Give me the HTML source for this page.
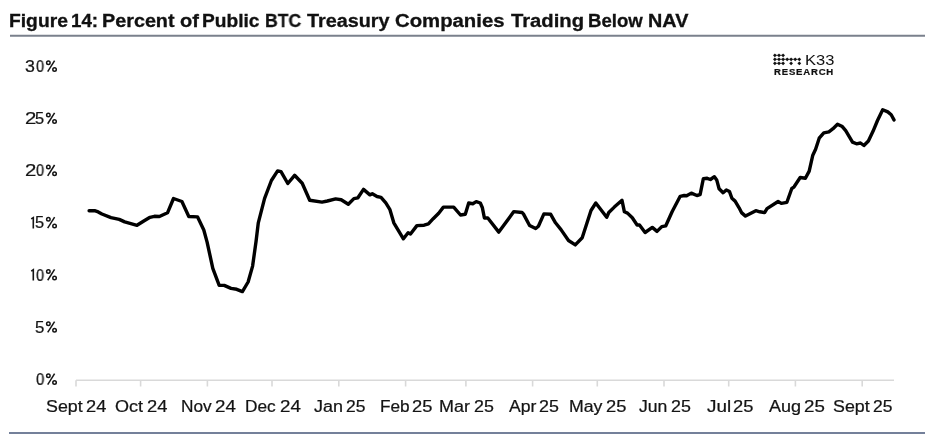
<!DOCTYPE html>
<html><head><meta charset="utf-8"><style>
html,body{margin:0;padding:0;background:#fff;}
body{width:935px;height:439px;position:relative;overflow:hidden;font-family:"Liberation Sans",sans-serif;}
.t{position:absolute;white-space:nowrap;line-height:1;transform-origin:0 0;will-change:transform;}
.rule{position:absolute;}
svg{position:absolute;left:0;top:0;}
</style></head><body>
<svg width="935" height="439" viewBox="0 0 935 439">
<line x1="10" y1="35.8" x2="925" y2="35.8" stroke="#7a808c" stroke-width="2"/>
<line x1="9" y1="433" x2="925" y2="433" stroke="#74809a" stroke-width="2"/>
<g stroke="#d9d9d9" stroke-width="1.6" fill="none">
<line x1="76" y1="380.3" x2="894" y2="380.3"/>
<line x1="76" y1="380.3" x2="76" y2="386.5"/><line x1="140.6" y1="380.3" x2="140.6" y2="386.5"/><line x1="207.4" y1="380.3" x2="207.4" y2="386.5"/><line x1="272.0" y1="380.3" x2="272.0" y2="386.5"/><line x1="338.8" y1="380.3" x2="338.8" y2="386.5"/><line x1="405.6" y1="380.3" x2="405.6" y2="386.5"/><line x1="465.9" y1="380.3" x2="465.9" y2="386.5"/><line x1="532.6" y1="380.3" x2="532.6" y2="386.5"/><line x1="597.3" y1="380.3" x2="597.3" y2="386.5"/><line x1="664.0" y1="380.3" x2="664.0" y2="386.5"/><line x1="728.7" y1="380.3" x2="728.7" y2="386.5"/><line x1="795.4" y1="380.3" x2="795.4" y2="386.5"/><line x1="862.2" y1="380.3" x2="862.2" y2="386.5"/>
</g>
<g fill="#111"><path d="M773.0 55.3Q773.855 54.254999999999995 774.9 53.4Q775.9449999999999 54.254999999999995 776.8 55.3Q775.9449999999999 56.345 774.9 57.199999999999996Q773.855 56.345 773.0 55.3Z"/><path d="M777.1 55.3Q777.955 54.254999999999995 779.0 53.4Q780.045 54.254999999999995 780.9 55.3Q780.045 56.345 779.0 57.199999999999996Q777.955 56.345 777.1 55.3Z"/><path d="M781.2 55.3Q782.0550000000001 54.254999999999995 783.1 53.4Q784.145 54.254999999999995 785.0 55.3Q784.145 56.345 783.1 57.199999999999996Q782.0550000000001 56.345 781.2 55.3Z"/><path d="M773.0 59.3Q773.855 58.254999999999995 774.9 57.4Q775.9449999999999 58.254999999999995 776.8 59.3Q775.9449999999999 60.345 774.9 61.199999999999996Q773.855 60.345 773.0 59.3Z"/><path d="M777.1 59.3Q777.955 58.254999999999995 779.0 57.4Q780.045 58.254999999999995 780.9 59.3Q780.045 60.345 779.0 61.199999999999996Q777.955 60.345 777.1 59.3Z"/><path d="M781.2 59.3Q782.0550000000001 58.254999999999995 783.1 57.4Q784.145 58.254999999999995 785.0 59.3Q784.145 60.345 783.1 61.199999999999996Q782.0550000000001 60.345 781.2 59.3Z"/><path d="M785.3000000000001 59.3Q786.1550000000001 58.254999999999995 787.2 57.4Q788.245 58.254999999999995 789.1 59.3Q788.245 60.345 787.2 61.199999999999996Q786.1550000000001 60.345 785.3000000000001 59.3Z"/><path d="M789.2 59.3Q790.0550000000001 58.254999999999995 791.1 57.4Q792.145 58.254999999999995 793.0 59.3Q792.145 60.345 791.1 61.199999999999996Q790.0550000000001 60.345 789.2 59.3Z"/><path d="M793.3000000000001 59.3Q794.1550000000001 58.254999999999995 795.2 57.4Q796.245 58.254999999999995 797.1 59.3Q796.245 60.345 795.2 61.199999999999996Q794.1550000000001 60.345 793.3000000000001 59.3Z"/><path d="M797.4 59.3Q798.255 58.254999999999995 799.3 57.4Q800.3449999999999 58.254999999999995 801.1999999999999 59.3Q800.3449999999999 60.345 799.3 61.199999999999996Q798.255 60.345 797.4 59.3Z"/><path d="M773.0 63.3Q773.855 62.254999999999995 774.9 61.4Q775.9449999999999 62.254999999999995 776.8 63.3Q775.9449999999999 64.345 774.9 65.2Q773.855 64.345 773.0 63.3Z"/><path d="M777.1 63.3Q777.955 62.254999999999995 779.0 61.4Q780.045 62.254999999999995 780.9 63.3Q780.045 64.345 779.0 65.2Q777.955 64.345 777.1 63.3Z"/><path d="M781.2 63.3Q782.0550000000001 62.254999999999995 783.1 61.4Q784.145 62.254999999999995 785.0 63.3Q784.145 64.345 783.1 65.2Q782.0550000000001 64.345 781.2 63.3Z"/><path d="M789.2 63.3Q790.0550000000001 62.254999999999995 791.1 61.4Q792.145 62.254999999999995 793.0 63.3Q792.145 64.345 791.1 65.2Q790.0550000000001 64.345 789.2 63.3Z"/><path d="M797.4 63.3Q798.255 62.254999999999995 799.3 61.4Q800.3449999999999 62.254999999999995 801.1999999999999 63.3Q800.3449999999999 64.345 799.3 65.2Q798.255 64.345 797.4 63.3Z"/></g><path d="M774.9 59.3H799.3M774.9 55.3H783.1M774.9 63.3H783.1" stroke="#111" stroke-width="0.6" fill="none"/>
<g fill="none" stroke="#141414" stroke-width="1.5"><circle cx="48.35" cy="375.80" r="1.75"/><circle cx="54.55" cy="382.45" r="1.75"/><path d="M54.6 373.70L47.7 384.60"/><circle cx="48.35" cy="323.63" r="1.75"/><circle cx="54.55" cy="330.28" r="1.75"/><path d="M54.6 321.53L47.7 332.43"/><circle cx="48.35" cy="271.46" r="1.75"/><circle cx="54.55" cy="278.11" r="1.75"/><path d="M54.6 269.36L47.7 280.26"/><circle cx="48.35" cy="219.29" r="1.75"/><circle cx="54.55" cy="225.94" r="1.75"/><path d="M54.6 217.19L47.7 228.09"/><circle cx="48.35" cy="167.12" r="1.75"/><circle cx="54.55" cy="173.77" r="1.75"/><path d="M54.6 165.02L47.7 175.92"/><circle cx="48.35" cy="114.95" r="1.75"/><circle cx="54.55" cy="121.60" r="1.75"/><path d="M54.6 112.85L47.7 123.75"/><circle cx="48.35" cy="62.78" r="1.75"/><circle cx="54.55" cy="69.43" r="1.75"/><path d="M54.6 60.68L47.7 71.58"/></g>
<g fill="none" stroke="#141414" stroke-width="1.6" stroke-linejoin="miter">
<path d="M31.2 271.06 L33.3 269.76 V280.56"/>
<path d="M31.2 218.89 L33.3 217.59 V228.39"/>
</g>
<path d="M89.1 210.7 L94.6 210.7 L98.2 211.9 L101.9 214.0 L111.0 217.6 L119.2 219.4 L124.7 221.9 L137.0 225.3 L143.8 221.0 L150.0 217.3 L154.4 216.3 L159.4 216.5 L167.5 212.8 L173.5 198.5 L181.9 201.5 L188.8 216.5 L197.6 216.9 L203.8 230.0 L207.1 242.1 L212.8 268.3 L219.2 285.4 L224.2 285.4 L231.0 288.4 L236.7 289.3 L242.4 291.6 L248.1 282.0 L252.6 266.1 L256.1 241.0 L258.3 222.8 L264.6 198.3 L271.4 180.5 L277.6 170.9 L281.0 171.6 L287.8 183.5 L294.6 175.3 L302.2 183.2 L309.7 200.3 L322.0 202.1 L327.4 201.0 L335.6 198.9 L341.2 199.7 L348.3 204.2 L353.9 198.6 L357.9 197.8 L363.5 189.4 L369.9 194.9 L372.3 193.8 L377.0 196.5 L381.0 197.3 L385.8 202.9 L389.8 209.3 L393.8 222.8 L403.4 238.8 L408.1 232.7 L410.5 234.0 L416.9 225.6 L424.1 225.2 L428.4 223.9 L433.2 218.7 L438.7 213.2 L443.4 207.1 L453.7 207.1 L460.5 215.0 L465.3 214.3 L468.7 203.0 L472.8 203.7 L476.2 201.6 L480.3 203.0 L482.4 207.8 L484.4 218.0 L487.8 218.0 L498.8 232.1 L513.8 211.6 L522.0 212.5 L523.4 213.9 L529.6 225.5 L535.7 228.5 L538.4 226.2 L543.9 213.9 L550.7 214.3 L555.5 222.8 L561.0 229.6 L568.5 240.5 L575.3 244.9 L582.2 237.8 L591.0 210.5 L595.8 203.0 L606.7 217.3 L608.8 212.5 L614.3 207.1 L622.0 200.3 L624.4 211.8 L627.5 213.1 L632.3 217.8 L637.1 225.0 L639.5 225.0 L645.1 232.5 L652.3 227.4 L657.0 231.4 L661.8 226.6 L665.8 225.8 L672.2 211.5 L680.2 196.3 L684.2 195.5 L686.6 195.8 L691.3 193.1 L696.9 195.5 L700.1 194.7 L703.3 178.8 L707.2 178.3 L710.4 179.5 L714.4 176.7 L716.7 179.9 L719.1 188.7 L723.1 192.7 L726.3 190.0 L729.5 191.6 L731.9 198.3 L735.1 201.1 L739.1 207.8 L741.5 212.6 L745.5 216.1 L755.8 210.7 L759.8 211.8 L764.6 212.6 L767.0 208.6 L778.1 201.5 L781.3 203.4 L786.9 202.3 L791.7 188.7 L794.1 186.8 L800.2 177.5 L805.4 178.3 L809.2 171.1 L812.8 155.2 L815.6 149.2 L819.2 138.2 L823.8 132.8 L828.9 131.8 L833.0 128.7 L837.5 124.2 L842.3 126.6 L845.7 130.7 L849.1 136.4 L852.5 142.1 L856.5 143.8 L860.5 143.0 L863.9 145.5 L868.4 141.0 L873.0 131.3 L877.5 120.5 L882.7 109.7 L887.8 111.9 L891.2 114.8 L894.0 119.9" fill="none" stroke="#000" stroke-width="3.4" stroke-linejoin="round" stroke-linecap="round"/>
</svg>
<span class="t" style="left:9.23px;top:11.80px;transform:scaleX(1.0704);font-size:18px;font-weight:bold;color:#111;-webkit-text-stroke:0.3px #111">Figure</span><span class="t" style="left:71.46px;top:11.80px;transform:scaleX(1.0417);font-size:18px;font-weight:bold;color:#111;-webkit-text-stroke:0.3px #111">14:</span><span class="t" style="left:102.00px;top:11.80px;transform:scaleX(1.0985);font-size:18px;font-weight:bold;color:#111;-webkit-text-stroke:0.3px #111">Percent</span><span class="t" style="left:180.30px;top:11.80px;transform:scaleX(1.1118);font-size:18px;font-weight:bold;color:#111;-webkit-text-stroke:0.3px #111">of</span><span class="t" style="left:201.74px;top:11.80px;transform:scaleX(1.0642);font-size:18px;font-weight:bold;color:#111;-webkit-text-stroke:0.3px #111">Public</span><span class="t" style="left:265.02px;top:11.80px;transform:scaleX(0.9778);font-size:18px;font-weight:bold;color:#111;-webkit-text-stroke:0.3px #111">BTC</span><span class="t" style="left:307.20px;top:11.80px;transform:scaleX(1.1000);font-size:18px;font-weight:bold;color:#111;-webkit-text-stroke:0.3px #111">Treasury</span><span class="t" style="left:395.00px;top:11.80px;transform:scaleX(1.1289);font-size:18px;font-weight:bold;color:#111;-webkit-text-stroke:0.3px #111">Companies</span><span class="t" style="left:510.80px;top:11.80px;transform:scaleX(1.1234);font-size:18px;font-weight:bold;color:#111;-webkit-text-stroke:0.3px #111">Trading</span><span class="t" style="left:588.47px;top:11.80px;transform:scaleX(1.0327);font-size:18px;font-weight:bold;color:#111;-webkit-text-stroke:0.3px #111">Below</span><span class="t" style="left:648.30px;top:11.80px;transform:scaleX(1.1000);font-size:18px;font-weight:bold;color:#111;-webkit-text-stroke:0.3px #111">NAV</span><span class="t" style="left:46.46px;top:398.90px;transform:scaleX(1.1419);font-size:15.6px;color:#141414;-webkit-text-stroke:0.22px #141414">Sept</span><span class="t" style="left:86.23px;top:398.90px;transform:scaleX(1.1688);font-size:15.6px;color:#141414;-webkit-text-stroke:0.22px #141414">24</span><span class="t" style="left:115.05px;top:398.90px;transform:scaleX(1.1542);font-size:15.6px;color:#141414;-webkit-text-stroke:0.22px #141414">Oct</span><span class="t" style="left:147.02px;top:398.90px;transform:scaleX(1.1750);font-size:15.6px;color:#141414;-webkit-text-stroke:0.22px #141414">24</span><span class="t" style="left:180.59px;top:398.90px;transform:scaleX(1.1074);font-size:15.6px;color:#141414;-webkit-text-stroke:0.22px #141414">Nov</span><span class="t" style="left:214.80px;top:398.90px;transform:scaleX(1.2000);font-size:15.6px;color:#141414;-webkit-text-stroke:0.22px #141414">24</span><span class="t" style="left:245.19px;top:398.90px;transform:scaleX(1.1074);font-size:15.6px;color:#141414;-webkit-text-stroke:0.22px #141414">Dec</span><span class="t" style="left:279.80px;top:398.90px;transform:scaleX(1.2000);font-size:15.6px;color:#141414;-webkit-text-stroke:0.22px #141414">24</span><span class="t" style="left:313.70px;top:398.90px;transform:scaleX(1.1520);font-size:15.6px;color:#141414;-webkit-text-stroke:0.22px #141414">Jan</span><span class="t" style="left:346.08px;top:398.90px;transform:scaleX(1.1187);font-size:15.6px;color:#141414;-webkit-text-stroke:0.22px #141414">25</span><span class="t" style="left:379.50px;top:398.90px;transform:scaleX(1.1038);font-size:15.6px;color:#141414;-webkit-text-stroke:0.22px #141414">Feb</span><span class="t" style="left:412.03px;top:398.90px;transform:scaleX(1.1750);font-size:15.6px;color:#141414;-webkit-text-stroke:0.22px #141414">25</span><span class="t" style="left:439.45px;top:398.90px;transform:scaleX(1.1500);font-size:15.6px;color:#141414;-webkit-text-stroke:0.22px #141414">Mar</span><span class="t" style="left:473.66px;top:398.90px;transform:scaleX(1.1437);font-size:15.6px;color:#141414;-webkit-text-stroke:0.22px #141414">25</span><span class="t" style="left:508.70px;top:398.90px;transform:scaleX(1.1292);font-size:15.6px;color:#141414;-webkit-text-stroke:0.22px #141414">Apr</span><span class="t" style="left:538.96px;top:398.90px;transform:scaleX(1.1437);font-size:15.6px;color:#141414;-webkit-text-stroke:0.22px #141414">25</span><span class="t" style="left:569.17px;top:398.90px;transform:scaleX(1.1345);font-size:15.6px;color:#141414;-webkit-text-stroke:0.22px #141414">May</span><span class="t" style="left:606.33px;top:398.90px;transform:scaleX(1.1750);font-size:15.6px;color:#141414;-webkit-text-stroke:0.22px #141414">25</span><span class="t" style="left:639.40px;top:398.90px;transform:scaleX(1.1280);font-size:15.6px;color:#141414;-webkit-text-stroke:0.22px #141414">Jun</span><span class="t" style="left:671.26px;top:398.90px;transform:scaleX(1.1437);font-size:15.6px;color:#141414;-webkit-text-stroke:0.22px #141414">25</span><span class="t" style="left:706.90px;top:398.90px;transform:scaleX(1.2105);font-size:15.6px;color:#141414;-webkit-text-stroke:0.22px #141414">Jul</span><span class="t" style="left:732.63px;top:398.90px;transform:scaleX(1.1750);font-size:15.6px;color:#141414;-webkit-text-stroke:0.22px #141414">25</span><span class="t" style="left:769.30px;top:398.90px;transform:scaleX(1.1556);font-size:15.6px;color:#141414;-webkit-text-stroke:0.22px #141414">Aug</span><span class="t" style="left:804.00px;top:398.90px;transform:scaleX(1.2000);font-size:15.6px;color:#141414;-webkit-text-stroke:0.22px #141414">25</span><span class="t" style="left:832.76px;top:398.90px;transform:scaleX(1.1419);font-size:15.6px;color:#141414;-webkit-text-stroke:0.22px #141414">Sept</span><span class="t" style="left:873.38px;top:398.90px;transform:scaleX(1.1187);font-size:15.6px;color:#141414;-webkit-text-stroke:0.22px #141414">25</span><span class="t" style="left:35.90px;top:371.95px;transform:scaleX(0.9333);font-size:16px;color:#141414;-webkit-text-stroke:0.22px #141414">0</span><span class="t" style="left:34.85px;top:319.78px;transform:scaleX(1.0500);font-size:16px;color:#141414;-webkit-text-stroke:0.22px #141414">5</span><span class="t" style="left:36.10px;top:267.61px;transform:scaleX(0.9111);font-size:16px;color:#141414;-webkit-text-stroke:0.22px #141414">0</span><span class="t" style="left:35.08px;top:215.44px;transform:scaleX(1.0250);font-size:16px;color:#141414;-webkit-text-stroke:0.22px #141414">5</span><span class="t" style="left:25.23px;top:163.27px;transform:scaleX(1.2714);font-size:16px;color:#141414;-webkit-text-stroke:0.22px #141414">2</span><span class="t" style="left:36.10px;top:163.27px;transform:scaleX(0.9111);font-size:16px;color:#141414;-webkit-text-stroke:0.22px #141414">0</span><span class="t" style="left:25.23px;top:111.10px;transform:scaleX(1.2714);font-size:16px;color:#141414;-webkit-text-stroke:0.22px #141414">2</span><span class="t" style="left:35.08px;top:111.10px;transform:scaleX(1.0250);font-size:16px;color:#141414;-webkit-text-stroke:0.22px #141414">5</span><span class="t" style="left:25.39px;top:58.93px;transform:scaleX(1.1125);font-size:16px;color:#141414;-webkit-text-stroke:0.22px #141414">3</span><span class="t" style="left:36.10px;top:58.93px;transform:scaleX(0.9111);font-size:16px;color:#141414;-webkit-text-stroke:0.22px #141414">0</span><span class="t" style="left:804.82px;top:52.30px;transform:scaleX(1.0769);font-size:15.3px;color:#111">K33</span><span class="t" style="left:774.00px;top:68.70px;transform:scaleX(1.1647);font-size:8.2px;font-weight:bold;letter-spacing:0.7px;color:#111;-webkit-text-stroke:0.2px #111">RESEARCH</span>
</body></html>
